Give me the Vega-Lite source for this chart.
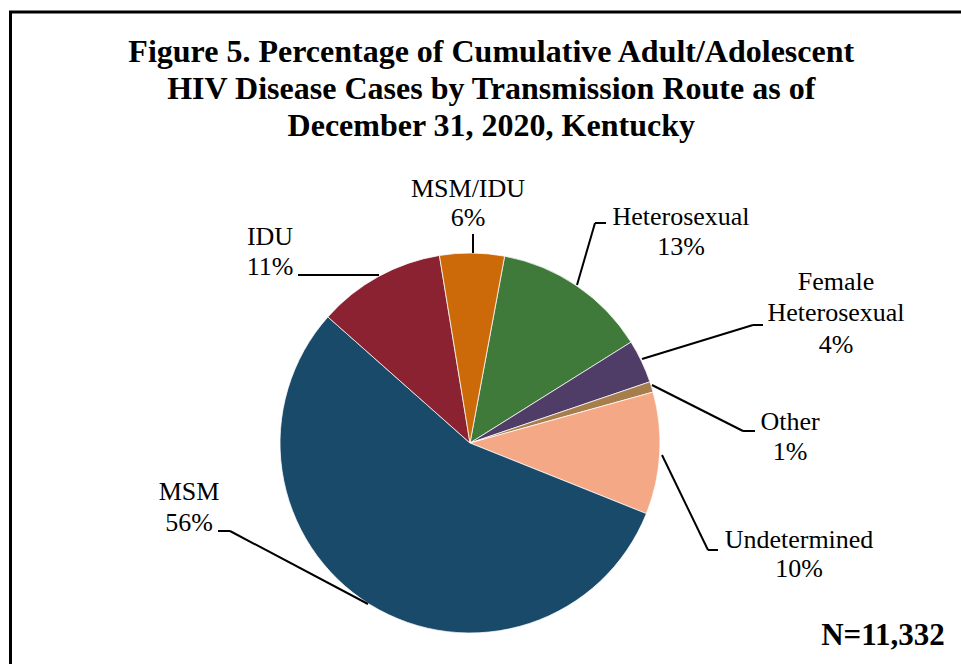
{
  "$schema": "https://vega.github.io/schema/vega-lite/v6.json",
  "width": 953.5,
  "height": 655,
  "autosize": {"type": "none"},
  "padding": {"left": 10.5, "top": 12, "right": -3, "bottom": -3},
  "background": "white",
  "config": {
    "view": {"stroke": "black", "strokeWidth": 3},
    "font": "Liberation Serif"
  },
  "title": {
    "text": ["Figure 5. Percentage of Cumulative Adult/Adolescent", "HIV Disease Cases by Transmission Route as of", "December 31, 2020, Kentucky"],
    "font": "Liberation Serif",
    "fontSize": 32,
    "fontWeight": "bold",
    "lineHeight": 37,
    "color": "black",
    "anchor": "middle",
    "frame": "group",
    "dx": 4,
    "offset": -131
  },
  "data": {
    "values": [
      {"route": "Heterosexual", "share": 13.2, "slice": 1, "label": ["Heterosexual", "13%"]},
      {"route": "Female Heterosexual", "share": 3.7, "slice": 2, "label": ["Female", "Heterosexual", "4%"]},
      {"route": "Other", "share": 0.9, "slice": 3, "label": ["Other", "1%"]},
      {"route": "Undetermined", "share": 10.4, "slice": 4, "label": ["Undetermined", "10%"]},
      {"route": "MSM", "share": 55.6, "slice": 5, "label": ["MSM", "56%"]},
      {"route": "IDU", "share": 10.9, "slice": 6, "label": ["IDU", "11%"]},
      {"route": "MSM/IDU", "share": 5.5, "slice": 7, "label": ["MSM/IDU", "6%"]}
    ]
  },
  "layer": [
    {
      "mark": {"type": "arc", "outerRadius": 190, "stroke": "white", "strokeWidth": 0.75},
      "encoding": {
        "x": {"datum": 0, "type": "quantitative", "scale": {"domain": [-2.41842, 2.6], "nice": false, "zero": false}, "axis": null},
        "y": {"datum": 0, "type": "quantitative", "scale": {"domain": [-1.17895, 2.26842], "nice": false, "zero": false}, "axis": null},
        "theta": {"field": "share", "type": "quantitative", "stack": true, "scale": {"range": [0.18326, 6.46645]}},
        "order": {"field": "slice", "type": "quantitative"},
        "color": {
          "field": "route", "type": "nominal", "legend": null,
          "scale": {
            "domain": ["Heterosexual", "Female Heterosexual", "Other", "Undetermined", "MSM", "IDU", "MSM/IDU"],
            "range": ["#3F7A3A", "#4F3D68", "#A57E4B", "#F4A886", "#1A4A6A", "#8B2231", "#CC6A0A"]
          }
        }
      }
    },
    {
      "transform": [{"filter": "datum.route == 'MSM/IDU'"}],
      "mark": {"type": "rule", "color": "black", "strokeWidth": 2},
      "encoding": {"x": {"datum": 0.0158}, "y": {"datum": 1.0}, "x2": {"datum": 0.0158}, "y2": {"datum": 1.1}}
    },
    {
      "transform": [{"filter": "datum.route == 'Heterosexual'"}],
      "mark": {"type": "rule", "color": "black", "strokeWidth": 2},
      "encoding": {"x": {"datum": 0.5632}, "y": {"datum": 0.8316}, "x2": {"datum": 0.6579}, "y2": {"datum": 1.1579}}
    },
    {
      "transform": [{"filter": "datum.route == 'Heterosexual'"}],
      "mark": {"type": "rule", "color": "black", "strokeWidth": 2},
      "encoding": {"x": {"datum": 0.6579}, "y": {"datum": 1.1579}, "x2": {"datum": 0.7158}, "y2": {"datum": 1.1579}}
    },
    {
      "transform": [{"filter": "datum.route == 'Female Heterosexual'"}],
      "mark": {"type": "rule", "color": "black", "strokeWidth": 2},
      "encoding": {"x": {"datum": 0.9053}, "y": {"datum": 0.4421}, "x2": {"datum": 1.4895}, "y2": {"datum": 0.6211}}
    },
    {
      "transform": [{"filter": "datum.route == 'Female Heterosexual'"}],
      "mark": {"type": "rule", "color": "black", "strokeWidth": 2},
      "encoding": {"x": {"datum": 1.4895}, "y": {"datum": 0.6211}, "x2": {"datum": 1.5421}, "y2": {"datum": 0.6211}}
    },
    {
      "transform": [{"filter": "datum.route == 'Other'"}],
      "mark": {"type": "rule", "color": "black", "strokeWidth": 2},
      "encoding": {"x": {"datum": 0.9579}, "y": {"datum": 0.3053}, "x2": {"datum": 1.4368}, "y2": {"datum": 0.0632}}
    },
    {
      "transform": [{"filter": "datum.route == 'Other'"}],
      "mark": {"type": "rule", "color": "black", "strokeWidth": 2},
      "encoding": {"x": {"datum": 1.4368}, "y": {"datum": 0.0632}, "x2": {"datum": 1.5}, "y2": {"datum": 0.0632}}
    },
    {
      "transform": [{"filter": "datum.route == 'Undetermined'"}],
      "mark": {"type": "rule", "color": "black", "strokeWidth": 2},
      "encoding": {"x": {"datum": 1.0105}, "y": {"datum": -0.0632}, "x2": {"datum": 1.2526}, "y2": {"datum": -0.5632}}
    },
    {
      "transform": [{"filter": "datum.route == 'Undetermined'"}],
      "mark": {"type": "rule", "color": "black", "strokeWidth": 2},
      "encoding": {"x": {"datum": 1.2526}, "y": {"datum": -0.5632}, "x2": {"datum": 1.3053}, "y2": {"datum": -0.5632}}
    },
    {
      "transform": [{"filter": "datum.route == 'MSM'"}],
      "mark": {"type": "rule", "color": "black", "strokeWidth": 2},
      "encoding": {"x": {"datum": -0.5368}, "y": {"datum": -0.8474}, "x2": {"datum": -1.2632}, "y2": {"datum": -0.4632}}
    },
    {
      "transform": [{"filter": "datum.route == 'MSM'"}],
      "mark": {"type": "rule", "color": "black", "strokeWidth": 2},
      "encoding": {"x": {"datum": -1.2632}, "y": {"datum": -0.4632}, "x2": {"datum": -1.3263}, "y2": {"datum": -0.4632}}
    },
    {
      "transform": [{"filter": "datum.route == 'IDU'"}],
      "mark": {"type": "rule", "color": "black", "strokeWidth": 2},
      "encoding": {"x": {"datum": -0.4789}, "y": {"datum": 0.8842}, "x2": {"datum": -0.9053}, "y2": {"datum": 0.8842}}
    },
    {
      "transform": [{"filter": "datum.route == 'MSM/IDU'"}],
      "mark": {"type": "text", "font": "Liberation Serif", "fontSize": 26, "lineHeight": 29, "align": "center", "baseline": "alphabetic", "color": "black"},
      "encoding": {"x": {"datum": -0.0105}, "y": {"datum": 1.2947}, "text": {"field": "label"}}
    },
    {
      "transform": [{"filter": "datum.route == 'Heterosexual'"}],
      "mark": {"type": "text", "font": "Liberation Serif", "fontSize": 26, "lineHeight": 30, "align": "center", "baseline": "alphabetic", "color": "black"},
      "encoding": {"x": {"datum": 1.1105}, "y": {"datum": 1.1474}, "text": {"field": "label"}}
    },
    {
      "transform": [{"filter": "datum.route == 'Female Heterosexual'"}],
      "mark": {"type": "text", "font": "Liberation Serif", "fontSize": 26, "lineHeight": 31.5, "align": "center", "baseline": "alphabetic", "color": "black"},
      "encoding": {"x": {"datum": 1.9263}, "y": {"datum": 0.8053}, "text": {"field": "label"}}
    },
    {
      "transform": [{"filter": "datum.route == 'Other'"}],
      "mark": {"type": "text", "font": "Liberation Serif", "fontSize": 26, "lineHeight": 30, "align": "center", "baseline": "alphabetic", "color": "black"},
      "encoding": {"x": {"datum": 1.6842}, "y": {"datum": 0.0684}, "text": {"field": "label"}}
    },
    {
      "transform": [{"filter": "datum.route == 'Undetermined'"}],
      "mark": {"type": "text", "font": "Liberation Serif", "fontSize": 26, "lineHeight": 29, "align": "center", "baseline": "alphabetic", "color": "black"},
      "encoding": {"x": {"datum": 1.7316}, "y": {"datum": -0.5526}, "text": {"field": "label"}}
    },
    {
      "transform": [{"filter": "datum.route == 'MSM'"}],
      "mark": {"type": "text", "font": "Liberation Serif", "fontSize": 26, "lineHeight": 31, "align": "center", "baseline": "alphabetic", "color": "black"},
      "encoding": {"x": {"datum": -1.4789}, "y": {"datum": -0.3}, "text": {"field": "label"}}
    },
    {
      "transform": [{"filter": "datum.route == 'IDU'"}],
      "mark": {"type": "text", "font": "Liberation Serif", "fontSize": 26, "lineHeight": 30, "align": "center", "baseline": "alphabetic", "color": "black"},
      "encoding": {"x": {"datum": -1.0526}, "y": {"datum": 1.0421}, "text": {"field": "label"}}
    },
    {
      "transform": [{"filter": "datum.route == 'MSM'"}],
      "mark": {"type": "text", "font": "Liberation Serif", "fontSize": 31, "fontWeight": "bold", "align": "center", "baseline": "alphabetic", "color": "black"},
      "encoding": {"x": {"datum": 2.1737}, "y": {"datum": -1.0632}, "text": {"value": "N=11,332"}}
    }
  ]
}
